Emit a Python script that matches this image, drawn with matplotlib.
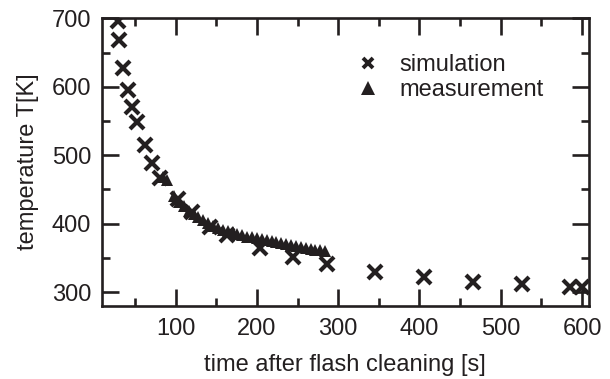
import matplotlib
matplotlib.use("Agg")
import matplotlib.pyplot as plt
from matplotlib.ticker import MultipleLocator
from matplotlib.lines import Line2D

sim_t = [28.7, 30.7, 35.6, 41.4, 46, 52, 62.3, 71.3, 80.8, 103, 119.8, 142, 163,
         204, 244, 286, 345.6, 405, 466, 526, 585.7, 600]
sim_T = [696.5, 669, 628, 595.6, 570, 548.6, 514.6, 489, 467, 435.5, 417, 395, 383,
         365, 351.5, 341, 329.7, 321.5, 315, 311, 308, 307]

meas_t = [85, 89, 98, 104, 110, 116, 122, 128, 134, 140, 146, 152, 158, 164, 170,
          176, 182, 188, 194, 200, 206, 212, 218, 224, 230, 236, 242, 248, 254,
          260, 266, 272, 278, 284]
meas_T = [468, 464, 440, 432, 425, 419, 414, 409, 405, 401, 397, 394, 391, 389, 387,
          385, 383, 381, 380, 379, 378, 376, 375, 373, 372, 370, 369, 367, 366,
          365, 363, 362, 361, 360]

col = "#231f20"
fs = 17
plt.rcParams['font.family'] = ['Liberation Sans', 'DejaVu Sans']
plt.rcParams['text.color'] = col

fig = plt.figure(figsize=(6.1, 3.79), dpi=100)
ax = fig.add_axes([0.1667, 0.1934, 0.7981, 0.7583])

ax.plot(sim_t, sim_T, linestyle='none', marker='x', markersize=9.5,
        markeredgewidth=3.0, color=col, zorder=3)
ax.plot(meas_t, meas_T, linestyle='none', marker='^', markersize=8.5,
        color=col, markeredgewidth=0, zorder=2)

ax.set_xlim(9, 608)
ax.set_ylim(280, 700)
ax.xaxis.set_major_locator(MultipleLocator(100))
ax.xaxis.set_minor_locator(MultipleLocator(50))
ax.yaxis.set_major_locator(MultipleLocator(100))
ax.yaxis.set_minor_locator(MultipleLocator(50))

for s in ax.spines.values():
    s.set_linewidth(1.9)
    s.set_color(col)
ax.tick_params(which='both', direction='in', top=True, right=True, width=1.9,
               color=col, labelcolor=col, labelsize=fs)
ax.tick_params(axis='x', which='major', pad=9)
ax.tick_params(axis='y', which='major', pad=7.5)
ax.tick_params(which='major', length=12.5)
ax.tick_params(which='minor', length=6)

ax.set_xlabel('time after flash cleaning [s]', fontsize=fs, color=col, labelpad=10)
ax.set_ylabel('temperature T[K]', fontsize=fs, color=col, labelpad=9)

h_sim = Line2D([], [], linestyle='none', marker='x', markersize=7,
               markeredgewidth=2.8, color=col)
h_meas = Line2D([], [], linestyle='none', marker='^', markersize=10,
                markeredgewidth=0, color=col)
ax.legend([h_sim, h_meas], ['simulation', 'measurement'], loc='upper left',
          frameon=False, fontsize=fs, bbox_to_anchor=(346.6 / 610, 1 - 45 / 379),
          bbox_transform=fig.transFigure, handlelength=1.0, handletextpad=0.85,
          labelspacing=0.1, borderaxespad=0, borderpad=0.4)

fig.savefig('out.png', dpi=100)
